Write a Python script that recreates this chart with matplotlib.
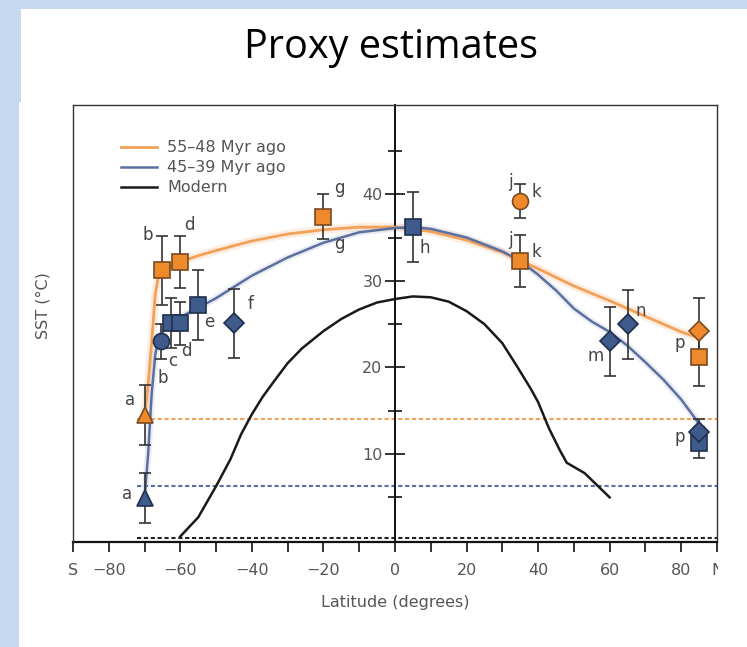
import matplotlib
matplotlib.use("Agg")
import matplotlib.pyplot as plt
from matplotlib.patches import Rectangle
from matplotlib.lines import Line2D

# 55-48 Myr ago proxy points (lat, SST, error)
early_sq_lat = [-65, -60, -20, 35, 85]
early_sq_sst = [31.2, 32.2, 37.4, 32.3, 21.2]
early_sq_err = [4.0, 3.0, 2.6, 3.0, 3.3]
early_tri_lat = [-70]
early_tri_sst = [14.5]
early_tri_err = [3.5]
early_circ_lat = [35]
early_circ_sst = [39.2]
early_circ_err = [2.0]
early_dia_lat = [85]
early_dia_sst = [24.2]
early_dia_err = [3.8]

# 45-39 Myr ago proxy points
mid_sq_lat = [-62.5, -60, -55, 5, 85]
mid_sq_sst = [25.1, 25.1, 27.2, 36.2, 11.3]
mid_sq_err = [2.9, 2.5, 4.0, 4.0, 1.8]
mid_tri_lat = [-70]
mid_tri_sst = [4.9]
mid_tri_err = [2.9]
mid_circ_lat = [-65.3]
mid_circ_sst = [23.0]
mid_circ_err = [2.0]
mid_dia_lat = [-45, 60, 65, 85]
mid_dia_sst = [25.1, 23.0, 25.0, 12.6]
mid_dia_err = [4.0, 4.0, 4.0, 1.5]

# fitted latitudinal profiles
early_fit_lat = [-70, -69, -68, -67, -66, -64.5, -60, -55, -50, -40, -30, -20, -10,
                 0, 10, 20, 30, 40, 50, 60, 70, 80, 85]
early_fit_sst = [14.5, 18, 23, 28.5, 30.8, 31.5, 32.2, 32.9, 33.5, 34.6, 35.4, 35.9, 36.2,
                 36.2, 35.7, 34.7, 33.3, 31.4, 29.4, 27.7, 25.9, 24.1, 23.4]
mid_fit_lat = [-70, -69, -68, -67, -66, -64, -60, -55, -50, -40, -30, -20, -10,
               0, 5, 10, 20, 30, 35, 40, 45, 50, 55, 60, 65, 70, 75, 80, 85]
mid_fit_sst = [4.9, 10, 17, 21.5, 23.5, 24.6, 25.8, 26.9, 28.0, 30.6, 32.7, 34.4, 35.6,
               36.1, 36.2, 36.0, 35.0, 33.4, 32.3, 30.7, 28.9, 26.8, 25.3, 24.1, 22.5,
               20.6, 18.6, 16.3, 13.5]

# modern zonal mean SST
modern_lat = [-60, -55, -50, -46, -43, -40, -37, -34, -30, -26, -20, -15, -10, -5, 0,
              5, 10, 15, 20, 25, 30, 34, 38, 40, 43, 46, 48, 53, 57, 60]
modern_sst = [0.5, 2.7, 6.3, 9.4, 12.3, 14.6, 16.6, 18.3, 20.5, 22.2, 24.2, 25.6, 26.7, 27.5, 27.9,
              28.2, 28.1, 27.6, 26.5, 25.0, 22.8, 20.2, 17.5, 16.0, 13.0, 10.5, 9.0, 7.8, 6.2, 5.0]

# reference levels (dashed)
early_ref = 14.0
mid_ref = 6.3
modern_ref = 0.35

# site letters
early_labels = [("a", -74, 16.2), ("b", -69, 35.3), ("d", -57.5, 36.5), ("g", -15.5, 40.7),
                ("j", 32.4, 41.4), ("k", 39.6, 40.2), ("j", 32.4, 34.7), ("k", 39.6, 33.3),
                ("p", 79.5, 22.8)]
mid_labels = [("a", -75, 5.4), ("b", -65, 18.8), ("c", -62, 20.8), ("d", -58.3, 21.9),
              ("e", -52, 25.3), ("f", -40.5, 27.3), ("g", -15.5, 34.3), ("h", 8.4, 33.8),
              ("m", 56, 21.3), ("n", 68.8, 26.5), ("p", 79.7, 12.0)]

ORANGE = "#F3A058"
ORANGE_FILL = "#EE8A2C"
ORANGE_EDGE = "#7A4A22"
BLUE = "#5B6FA0"
BLUE_FILL = "#3E5B8C"
BLUE_EDGE = "#1F2F4C"
GREY = "#555555"

plt.rcParams["font.family"] = ["DejaVu Sans"]

fig = plt.figure(figsize=(7.47, 6.47), dpi=100)
fig.patch.set_facecolor("#C6D9F1")
fig.patches.append(Rectangle((21 / 747, (647 - 103) / 647), 1, 94 / 647,
                             transform=fig.transFigure, facecolor="white", edgecolor="none", zorder=0))
fig.patches.append(Rectangle((19 / 747, 0), 1, (647 - 103) / 647 + 0.002,
                             transform=fig.transFigure, facecolor="white", edgecolor="none", zorder=0))

fig.text(391 / 747, 1 - 58 / 647, "Proxy estimates", fontsize=28.5, family="Open Sans",
         ha="center", va="baseline", color="black")

ax = fig.add_axes([73 / 747, 105 / 647, 644 / 747, 437 / 647])
ax.set_zorder(2)
ax.set_facecolor("white")
ax.set_xlim(-90, 90)
ax.set_ylim(-0.15, 50.3)

# dashed reference levels
dash = (0, (2.0, 1.3))
ax.hlines(early_ref, -72, 90, colors=ORANGE, linestyles=dash, lw=1.5, zorder=1)
ax.hlines(mid_ref, -72, 90, colors=BLUE, linestyles=dash, lw=1.5, zorder=1)
ax.hlines(modern_ref, -72, 90, colors="#222222", linestyles=dash, lw=1.5, zorder=1)

# fitted curves with a soft halo
ax.plot(early_fit_lat, early_fit_sst, color=ORANGE, lw=6, alpha=0.18, zorder=2,
        solid_capstyle="round")
ax.plot(mid_fit_lat, mid_fit_sst, color=BLUE, lw=5, alpha=0.12, zorder=2,
        solid_capstyle="round")
ax.plot(modern_lat, modern_sst, color="#1A1A1A", lw=1.8, zorder=2)
ax.plot(early_fit_lat, early_fit_sst, color=ORANGE, lw=2, zorder=3)
ax.plot(mid_fit_lat, mid_fit_sst, color=BLUE, lw=1.8, zorder=3)

eb_kw = dict(ecolor="#333333", elinewidth=1.2, capsize=4, capthick=1.2, ls="none", zorder=4)


def points(lat, sst, err, marker, ms, fill, edge):
    ax.errorbar(lat, sst, yerr=err, fmt=marker, ms=ms, mfc=fill, mec=edge, mew=1.2, **eb_kw)


points(mid_tri_lat, mid_tri_sst, mid_tri_err, "^", 12, BLUE_FILL, BLUE_EDGE)
points(mid_circ_lat, mid_circ_sst, mid_circ_err, "o", 11.5, BLUE_FILL, BLUE_EDGE)
points(mid_sq_lat, mid_sq_sst, mid_sq_err, "s", 12, BLUE_FILL, BLUE_EDGE)
points(mid_dia_lat, mid_dia_sst, mid_dia_err, "D", 10.5, BLUE_FILL, BLUE_EDGE)
points(early_tri_lat, early_tri_sst, early_tri_err, "^", 12, ORANGE_FILL, ORANGE_EDGE)
points(early_circ_lat, early_circ_sst, early_circ_err, "o", 11.5, ORANGE_FILL, ORANGE_EDGE)
points(early_sq_lat, early_sq_sst, early_sq_err, "s", 12, ORANGE_FILL, ORANGE_EDGE)
points(early_dia_lat, early_dia_sst, early_dia_err, "D", 10.5, ORANGE_FILL, ORANGE_EDGE)

for letter, x, y in early_labels + mid_labels:
    ax.text(x, y, letter, fontsize=12, color="#444444", ha="center", va="center", zorder=6)

# axes: box frame, y axis through the equator
for side in ("top", "right"):
    ax.spines[side].set_color("#333333")
    ax.spines[side].set_linewidth(1.0)
ax.spines["bottom"].set_linewidth(1.6)
ax.spines["bottom"].set_color("#111111")
ax.spines["left"].set_position(("data", 0))
ax.spines["left"].set_linewidth(1.4)
ax.spines["left"].set_color("#111111")
ax.axvline(-90, color="#333333", lw=1.0, clip_on=False, zorder=5)

xt = [-90, -80, -60, -40, -20, 0, 20, 40, 60, 80, 90]
xt_labels = ["S", "\u221280", "\u221260", "\u221240", "\u221220", "0", "20", "40", "60", "80", "N"]
ax.set_xticks(xt)
ax.set_xticklabels(xt_labels)
ax.set_xticks([-70, -50, -30, -10, 10, 30, 50, 70], minor=True)
ax.tick_params(axis="x", which="both", direction="out", length=7, width=1.3,
               colors="#222222", labelcolor=GREY, labelsize=11.5, pad=8)

ax.set_yticks([10, 20, 30, 40])
ax.set_yticks([5, 15, 25, 35, 45], minor=True)
ax.tick_params(axis="y", which="major", direction="inout", length=14, width=1.3,
               colors="#222222", labelcolor=GREY, labelsize=11.5, pad=2)
ax.tick_params(axis="y", which="minor", direction="inout", length=10, width=1.3,
               colors="#222222")

# the north label sits right on the frame edge and is cut there
clip = Rectangle((0, 0), 718 / 747, 1, transform=fig.transFigure, visible=False)
fig.patches.append(clip)
ax.get_xticklabels()[-1].set_clip_path(clip)

ax.set_xlabel("Latitude (degrees)", fontsize=11.5, color=GREY)
ax.xaxis.set_label_coords(0.5, -0.122)
ax.set_ylabel("SST (\u00b0C)", fontsize=11.5, color=GREY)
ax.yaxis.set_label_coords(-0.035, 0.54)

handles = [Line2D([], [], color=ORANGE, lw=2), Line2D([], [], color=BLUE, lw=1.8),
           Line2D([], [], color="#1A1A1A", lw=1.8)]
ax.legend(handles, ["55\u201348 Myr ago", "45\u201339 Myr ago", "Modern"],
          loc="upper left", bbox_to_anchor=(0.064, 0.934), frameon=False, fontsize=11.5,
          labelcolor=GREY, handlelength=2.3, handletextpad=0.6, labelspacing=0.32,
          borderaxespad=0)

fig.savefig("out.png", dpi=100, facecolor=fig.get_facecolor())
